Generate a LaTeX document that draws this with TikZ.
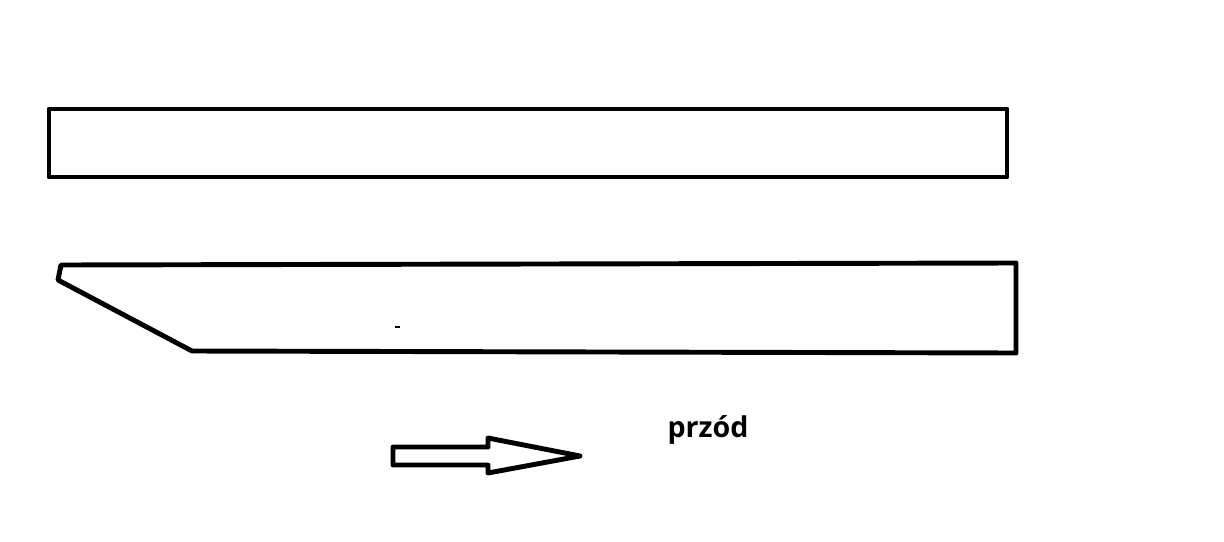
\documentclass[tikz,border=0pt]{standalone}
\usepackage{fontspec}
\setsansfont{Open Sans}
\usepackage{tikz}
\usetikzlibrary{positioning}

\begin{document}
\begin{tikzpicture}
    [line cap=round,line join=round,x=0.02cm,y=-0.02cm, line width=2.8pt]
%frame of the picture
\useasboundingbox (0,0) rectangle (1224,541);

%upper bar
 \draw (49,109) rectangle (1007,177);

%lower bar with bevelled front
 \draw (61,265) -- (1016,263) -- (1016,353) -- (192,351) -- (58,280) -- cycle;
 %\draw (1016,263) -- (1016,300);
 \fill[black] (395,326) rectangle (400,328);

%arrow pointing forward
 \draw (393,447) -- (488,447) -- (488,438) -- (580,456) -- (488,473) -- (488,465) -- (393,465) -- cycle;

 \node (przod) at (708,430) {\sffamily\bfseries\fontsize{16.3}{19}\selectfont przód};

\end{tikzpicture}
\end{document}
